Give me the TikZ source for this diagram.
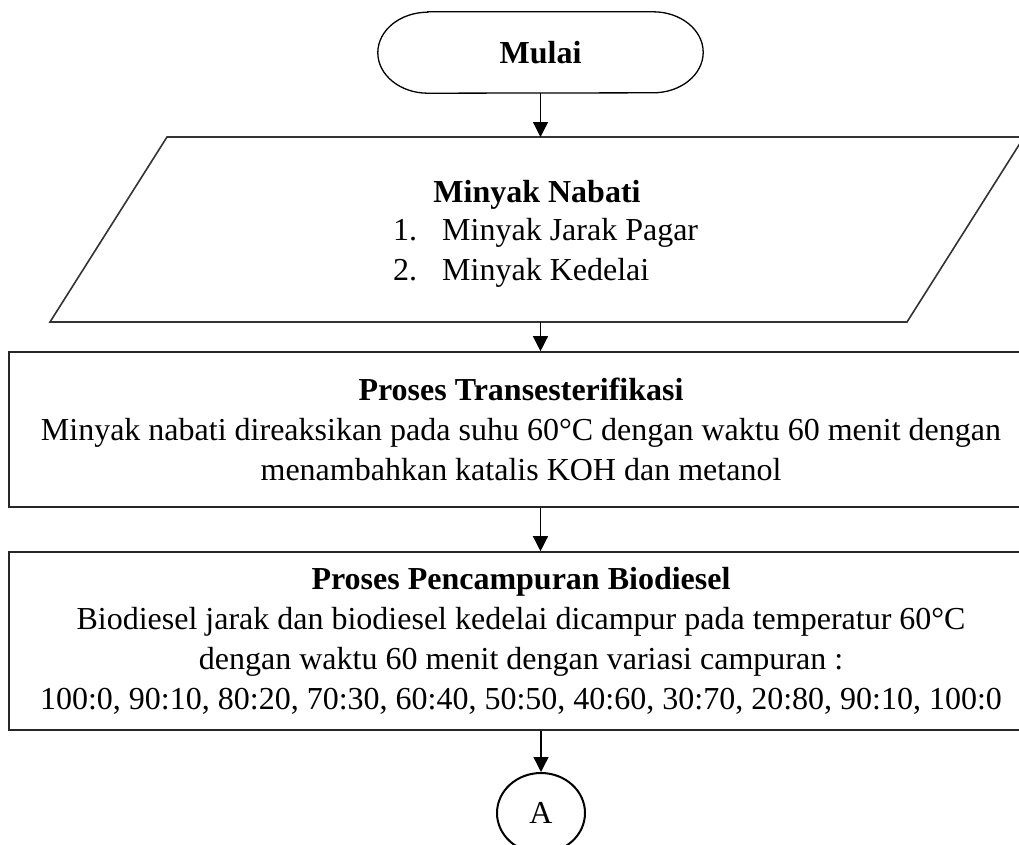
\documentclass[tikz,border=0pt]{standalone}
\usepackage{fontspec}
\setmainfont{Liberation Serif}
\usetikzlibrary{arrows.meta,shapes.geometric}
\begin{document}
\begin{tikzpicture}[x=1pt,y=-1pt,
  txt/.style={font=\fontsize{32}{40}\selectfont, inner sep=0pt, text=black},
  boxc/.style={draw=black!85, line width=1.6pt, align=center, font=\fontsize{32}{40}\selectfont, inner sep=0pt},
  outline/.style={draw=black!80, line width=1.6pt},
  arr/.style={draw=black, line width=1.3pt, -{Triangle[length=15pt,width=15pt]}},
  ]
\useasboundingbox (0,0) rectangle (1019,844);
\clip (0,0) rectangle (1019,844);
\fill[white] (0,0) rectangle (1019,844);

% Terminator
\node[txt, font=\fontsize{32}{40}\selectfont\bfseries, minimum width=325, minimum height=81] (mulai) at (540.5,52.5) {Mulai};
\draw[line width=1.3pt, black] ([xshift=50pt]mulai.north west) -- ([xshift=-50pt]mulai.north east)
  arc[start angle=90, end angle=-90, x radius=50pt, y radius=40.5pt]
  -- ([xshift=50pt]mulai.south west)
  arc[start angle=270, end angle=90, x radius=50pt, y radius=40.5pt] -- cycle;

% Parallelogram (input)
\coordinate (p1) at (167,137);
\coordinate (p2) at (1024,137);
\coordinate (p3) at (907,322);
\coordinate (p4) at (50,322);
\draw[outline] (p1) -- (p2) -- (p3) -- (p4) -- cycle;
\coordinate (ptop) at (540.5,137);
\coordinate (pbot) at (540.5,322);
\node[txt, font=\fontsize{32}{40}\selectfont\bfseries, anchor=base] (nabati) at (537,202) {Minyak Nabati};
\node[txt, anchor=base west] (n1) at (393,240) {1.};
\node[txt, anchor=base west] (j1) at (442,240) {Minyak Jarak Pagar};
\node[txt, anchor=base west] (n2) at (393,280) {2.};
\node[txt, anchor=base west] (j2) at (442,280) {Minyak Kedelai};

% Process boxes
\node[boxc, minimum width=1024, minimum height=155] (trans) at (521,429.5)
  {\textbf{Proses Transesterifikasi}\\Minyak nabati direaksikan pada suhu 60°C dengan waktu 60 menit dengan\\menambahkan katalis KOH dan metanol};
\node[boxc, minimum width=1024, minimum height=178] (campur) at (521,641)
  {\textbf{Proses Pencampuran Biodiesel}\\Biodiesel jarak dan biodiesel kedelai dicampur pada temperatur 60°C\\dengan waktu 60 menit dengan variasi campuran :\\100:0, 90:10, 80:20, 70:30, 60:40, 50:50, 40:60, 30:70, 20:80, 90:10, 100:0};

% Connector
\node[txt, draw=black, ellipse, line width=2pt, minimum width=88, minimum height=80] (A) at (541,813) {A};

% Arrows
\draw[arr] (mulai.south) -- (ptop);
\draw[arr] (pbot) -- (trans.north -| pbot);
\draw[arr] (trans.south -| pbot) -- (campur.north -| pbot);
\draw[arr] (campur.south -| A) -- (A.north);
\end{tikzpicture}
\end{document}
